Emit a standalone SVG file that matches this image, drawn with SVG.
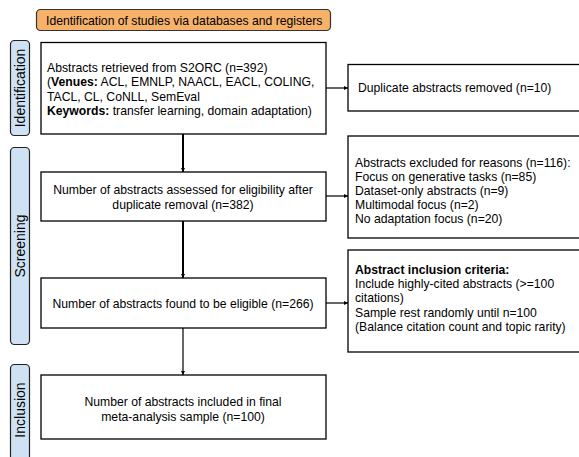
<svg xmlns="http://www.w3.org/2000/svg" width="579" height="457" viewBox="0 0 579 457">
<style>
text{font-family:"Liberation Sans",Arial,sans-serif;font-size:12.2px;fill:#000}
.box{fill:#fff;stroke:#000;stroke-width:1.3}
.side{fill:#cfe2f3;stroke:#222;stroke-width:1.2}
.sl{font-size:14px;text-anchor:middle}
.c{text-anchor:middle}
.b{font-weight:bold}
.con{stroke:#000;fill:none}
</style>
<defs>
<marker id="ah" viewBox="0 0 6 6" refX="6" refY="3" markerWidth="4" markerHeight="4" markerUnits="userSpaceOnUse" orient="auto"><path d="M0,0L6,3L0,6z" fill="#000"/></marker>
</defs>
<rect width="579" height="457" fill="#fff"/>
<g id="title"><rect x="36.5" y="9.5" width="294" height="21" rx="4" fill="#f6b26b" stroke="#333" stroke-width="1.2"/><text x="46" y="24.5">Identification of studies via databases and registers</text></g>
<g id="lab-identification"><rect class="side" x="10.5" y="40.5" width="19" height="95" rx="4"/><text class="sl" transform="translate(25,88) rotate(-90)">Identification</text></g>
<g id="lab-screening"><rect class="side" x="10.5" y="147.5" width="19" height="197" rx="4"/><text class="sl" transform="translate(25,246) rotate(-90)">Screening</text></g>
<g id="lab-inclusion"><rect class="side" x="10.5" y="364.5" width="19" height="96" rx="4"/><text class="sl" transform="translate(25,410) rotate(-90)">Inclusion</text></g>
<g id="n-retrieved"><rect class="box" x="41" y="42.5" width="285" height="91.5"/>
<text x="47" y="72">Abstracts retrieved from S2ORC (n=392)</text>
<text x="47" y="86">(<tspan class="b">Venues:</tspan> ACL, EMNLP, NAACL, EACL, COLING,</text>
<text x="47" y="100.5">TACL, CL, CoNLL, SemEval</text>
<text x="47" y="114.5"><tspan class="b">Keywords:</tspan> transfer learning, domain adaptation)</text></g>
<g id="n-duplicates"><rect class="box" x="348" y="64.5" width="240" height="46.5"/><text x="358" y="92">Duplicate abstracts removed (n=10)</text></g>
<g id="n-assessed"><rect class="box" x="41" y="172" width="285" height="49"/><text class="c" x="183" y="194">Number of abstracts assessed for eligibility after</text><text class="c" x="183" y="208.5">duplicate removal (n=382)</text></g>
<g id="n-excluded"><rect class="box" x="348" y="136" width="240" height="102"/>
<text x="355" y="167">Abstracts excluded for reasons (n=116):</text>
<text x="355" y="181">Focus on generative tasks (n=85)</text>
<text x="355" y="195">Dataset-only abstracts (n=9)</text>
<text x="355" y="209">Multimodal focus (n=2)</text>
<text x="355" y="223">No adaptation focus (n=20)</text></g>
<g id="n-eligible"><rect class="box" x="41" y="278" width="285" height="50"/><text class="c" x="183" y="307.5">Number of abstracts found to be eligible (n=266)</text></g>
<g id="n-criteria"><rect class="box" x="348" y="250" width="240" height="102"/>
<text x="355" y="274" class="b">Abstract inclusion criteria:</text>
<text x="355" y="288">Include highly-cited abstracts (&gt;=100</text>
<text x="355" y="302">citations)</text>
<text x="355" y="316.5">Sample rest randomly until n=100</text>
<text x="355" y="330.5">(Balance citation count and topic rarity)</text></g>
<g id="n-final"><rect class="box" x="41" y="375" width="285" height="64"/><text class="c" x="183" y="406">Number of abstracts included in final</text><text class="c" x="183" y="420.5">meta-analysis sample (n=100)</text></g>
<g id="connectors">
<line class="con" x1="183" y1="134" x2="183" y2="172" stroke-width="2" marker-end="url(#ah)"/>
<line class="con" x1="183" y1="221" x2="183" y2="278" stroke-width="2" marker-end="url(#ah)"/>
<line class="con" x1="183" y1="328" x2="183" y2="375" stroke-width="1.2" marker-end="url(#ah)"/>
<line class="con" x1="326" y1="88" x2="348" y2="88" stroke-width="1.2" marker-end="url(#ah)"/>
<line class="con" x1="326" y1="196" x2="348" y2="196" stroke-width="1.2" marker-end="url(#ah)"/>
<line class="con" x1="326" y1="303" x2="348" y2="303" stroke-width="1.2" marker-end="url(#ah)"/>
</g>
</svg>
